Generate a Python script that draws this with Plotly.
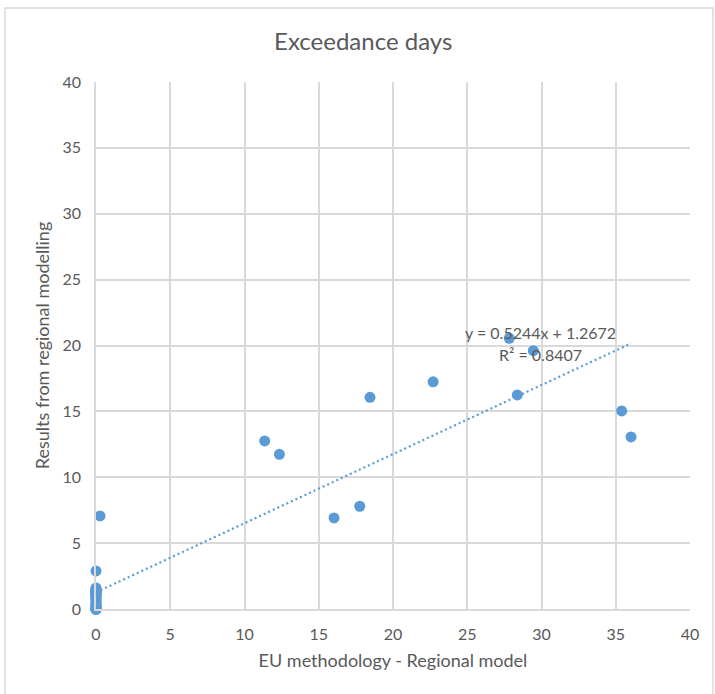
import plotly.graph_objects as go

# Regional-model exceedance days: EU methodology (x) vs. regional modelling (y)
eu_days = [
    0.27, 0.0, 11.36, 12.35, 16.03, 17.76, 18.45, 22.7,
    27.83, 29.45, 28.37, 35.4, 36.03,
] + [0.0] * 29
regional_days = [
    7.06, 2.89, 12.76, 11.74, 6.91, 7.8, 16.07, 17.24,
    20.55, 19.61, 16.25, 15.03, 13.06,
] + [0.0, 0.0, 0.0, 0.0, 0.0, 0.0, 0.0, 0.1, 0.1, 0.2, 0.3, 0.4, 0.5, 0.6,
     0.7, 0.8, 0.9, 1.0, 1.0, 1.1, 1.2, 1.2, 1.3, 1.3, 1.4, 1.4, 1.5, 1.5, 1.6]

# Linear trendline reported for the series
slope = 0.5244
intercept = 1.2672
r_squared = 0.8407
trend_x = [0.0, 36.03]
trend_y = [slope * v + intercept for v in trend_x]

tick_vals = [0, 5, 10, 15, 20, 25, 30, 35, 40]

blue = "#5b9bd5"
text_grey = "#595959"
grid_grey = "#d9d9d9"
font_family = "Lato, 'Open Sans', sans-serif"

fig = go.Figure()
fig.add_trace(go.Scatter(
    x=trend_x, y=trend_y, mode="lines",
    line=dict(color=blue, width=2.2, dash="2px,3px"),
    hoverinfo="skip", showlegend=False,
))
fig.add_trace(go.Scatter(
    x=eu_days, y=regional_days, mode="markers",
    marker=dict(color=blue, size=11, line=dict(width=0)),
    cliponaxis=False, showlegend=False,
))

fig.add_annotation(
    x=29.9, y=20.98, xref="x", yref="y", showarrow=False,
    text=f"y = {slope}x + {intercept}",
    font=dict(family=font_family, size=16, color=text_grey),
)
fig.add_annotation(
    x=29.9, y=19.29, xref="x", yref="y", showarrow=False,
    text=f"R² = {r_squared}",
    font=dict(family=font_family, size=16, color=text_grey),
)

# Chart frame
fig.add_shape(
    type="rect", xref="paper", yref="paper",
    x0=-0.1532, x1=1.0387, y0=-0.2, y1=1.1404,
    line=dict(color="#d9d9d9", width=1.5), fillcolor="rgba(0,0,0,0)",
    layer="below",
)

axis_common = dict(
    range=[0, 40], tickvals=tick_vals, showgrid=True, gridcolor=grid_grey,
    gridwidth=1.5, zeroline=False, showline=True, linecolor=grid_grey,
    linewidth=1.5, ticks="", ticklabelstandoff=10,
    tickfont=dict(family=font_family, size=16, color=text_grey),
)

fig.update_layout(
    width=715, height=694,
    margin=dict(l=96, r=25, t=82, b=85),
    paper_bgcolor="white", plot_bgcolor="white",
    title=dict(
        text="Exceedance days", x=0.508, xref="container", y=0.94,
        yref="container", xanchor="center", yanchor="middle",
        font=dict(family=font_family, size=24, color=text_grey),
    ),
    xaxis=dict(axis_common, title=dict(
        text="EU methodology - Regional model", standoff=12,
        font=dict(family=font_family, size=18, color=text_grey))),
    yaxis=dict(axis_common, title=dict(
        text="Results from regional modelling", standoff=8,
        font=dict(family=font_family, size=18, color=text_grey))),
)

fig.write_html("out.html")
